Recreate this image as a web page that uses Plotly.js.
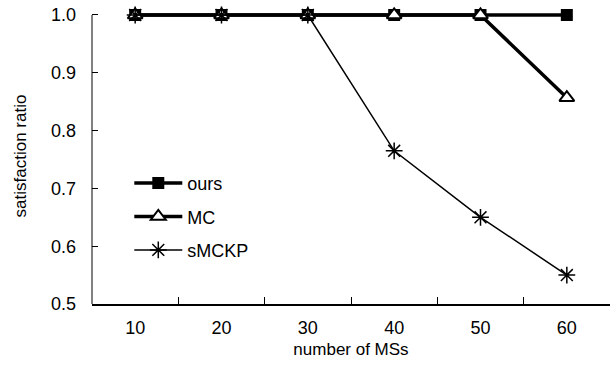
<!DOCTYPE html>
<html><head><meta charset="utf-8">
<script src="https://cdn.plot.ly/plotly-3.0.1.min.js"></script>
<style>body{margin:0;padding:0;background:#fff}#chart{width:610px;height:367px}</style>
</head><body><div id="chart"></div>
<script>
var categories = ['10','20','30','40','50','60'];
var ours = [1.0, 1.0, 1.0, 1.0, 1.0, 1.0];
var mc = [1.0, 1.0, 1.0, 1.0, 1.0, 0.857];
var smckp = [1.0, 1.0, 1.0, 0.765, 0.65, 0.55];
var yTicks = [0.5, 0.6, 0.7, 0.8, 0.9, 1.0];
var yTickText = ['0.5','0.6','0.7','0.8','0.9','1.0'];

var traces = [
  {x: categories, y: ours, name: 'ours', mode: 'lines+markers', legendgroup: 'a',
   line: {color: '#000', width: 3.5}, marker: {symbol: 'square', size: 12, color: '#000'}, cliponaxis: false},
  {x: categories, y: mc, name: 'MC', mode: 'lines+markers', legendgroup: 'b',
   line: {color: '#000', width: 3.5}, marker: {symbol: 'triangle-up', size: 13, color: '#fff', line: {color: '#000', width: 2}}, cliponaxis: false},
  {x: categories, y: smckp, name: 'sMCKP', mode: 'lines+markers', legendgroup: 'c',
   line: {color: '#000', width: 1.5}, marker: {symbol: 'asterisk-open', size: 14, color: '#000', line: {color: '#000', width: 1.5}}, cliponaxis: false}
];

var layout = {
  width: 610, height: 367,
  margin: {l: 92, r: 0, t: 8, b: 63},
  paper_bgcolor: '#fff', plot_bgcolor: '#fff',
  font: {family: 'Liberation Sans, Arial, sans-serif', color: '#000', size: 17},
  showlegend: true,
  legend: {x: 0.072, y: 0.47, xanchor: 'left', yanchor: 'top', bgcolor: 'rgba(0,0,0,0)',
    font: {size: 18}, tracegroupgap: 7, itemwidth: 48},
  xaxis: {type: 'category', range: [-0.5, 5.5], tickson: 'boundaries', ticks: 'inside', ticklen: 7,
    tickcolor: '#000', showline: true, linecolor: '#000', linewidth: 1.5, showgrid: false, zeroline: false,
    tickfont: {size: 18}, ticklabelstandoff: 7, title: {text: 'number of MSs', font: {size: 17}, standoff: 6}},
  yaxis: {range: [0.5, 1.0121], tickvals: yTicks, ticktext: yTickText, ticks: 'inside', ticklen: 6,
    tickcolor: '#000', showline: false, showgrid: false, zeroline: false,
    tickfont: {size: 18}, ticklabelstandoff: 15, title: {text: 'satisfaction ratio', font: {size: 17}, standoff: 20}},
  shapes: [{type: 'line', xref: 'paper', yref: 'y', x0: 0, x1: 0, y0: 0.5, y1: 1.0,
    line: {color: '#808080', width: 2}, layer: 'below'}]
};
Plotly.newPlot('chart', traces, layout, {displayModeBar: false, staticPlot: true});
</script></body></html>
